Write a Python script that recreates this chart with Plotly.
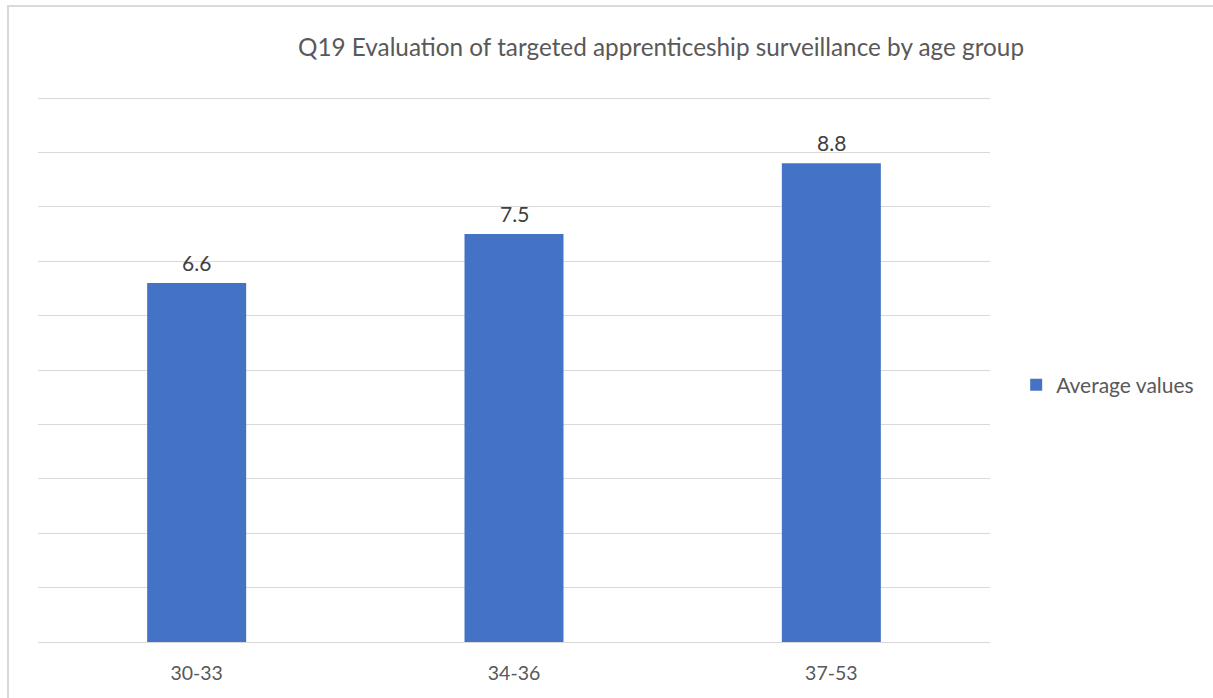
import plotly.graph_objects as go

categories = ["30-33", "34-36", "37-53"]
values = [6.6, 7.5, 8.8]
series_name = "Average values"
title_text = "Q19 Evaluation of targeted apprenticeship surveillance by age group"

FONT = "Lato, Open Sans, sans-serif"
TXT = "#595959"

fig = go.Figure()
fig.add_trace(go.Bar(
    x=categories, y=values, name=series_name,
    marker=dict(color="#4472C4", line=dict(width=0)),
    width=0.312,
))

for c, v in zip(categories, values):
    fig.add_annotation(x=c, y=v, text=f"{v:.1f}", showarrow=False,
                       yanchor="middle", yshift=21,
                       font=dict(family=FONT, size=21, color="#404040"))

fig.update_layout(
    width=1213, height=698,
    margin=dict(l=38, r=223, t=97, b=56),
    paper_bgcolor="white", plot_bgcolor="white",
    title=dict(text=title_text, x=661/1213, xanchor="center", y=1-47/698, yanchor="middle",
               font=dict(family=FONT, size=24.3, color=TXT)),
    showlegend=True,
    legend=dict(x=1.0275, xanchor="left", y=0.4716, yanchor="middle",
                font=dict(family=FONT, size=21, color=TXT), bgcolor="rgba(0,0,0,0)",
                borderwidth=0),
    xaxis=dict(showgrid=False, showline=True, linecolor="#D9D9D9", linewidth=1,
               tickfont=dict(family=FONT, size=19.5, color=TXT), ticks="",
               ticklabelstandoff=14),
    yaxis=dict(range=[0, 10.02], dtick=1, showgrid=True, gridcolor="#D9D9D9", gridwidth=1,
               showticklabels=False, zeroline=False, ticks=""),
    bargap=0.688,
)

fig.add_shape(type="rect", xref="paper", yref="paper",
              x0=-30/952, x1=(1220-38)/952, y0=-(720-642)/545, y1=(642-6)/545,
              line=dict(color="#D9D9D9", width=2), fillcolor="rgba(0,0,0,0)", layer="below")

fig.write_html("out.html")
